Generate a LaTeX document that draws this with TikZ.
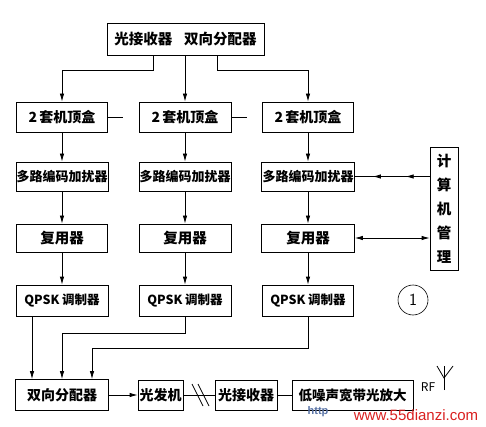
\documentclass[tikz,border=0pt]{standalone}
\usepackage{fontspec}
\setmainfont{Noto Sans CJK SC}
\newfontfamily\wmfont{Liberation Sans}
\usetikzlibrary{arrows.meta,decorations.markings,calc}
\definecolor{wmred}{rgb}{0.85,0.12,0.12}
\definecolor{wmblue}{rgb}{0.35,0.45,0.65}
\newcommand{\fsz}[1]{\fontsize{#1}{#1}\selectfont\bfseries}
\tikzset{mytip/.tip={Latex[length=8pt,width=4.5pt]}}
\begin{document}
\begin{tikzpicture}[x=1pt,y=-1pt,line width=0.8pt,
  blk/.style={draw,rectangle,inner sep=0pt,font=\fsz{14}},
  arr/.style={-mytip}]
\useasboundingbox (0,0) rectangle (486,427);

% top box
\node[blk,minimum width=157,minimum height=32,font=\fsz{14.5}] (top) at (185.5,39) {光接收器\hspace{0.8em}双向分配器};

% row 1
\node[blk,minimum width=91,minimum height=30,font=\fsz{14}] (b11) at (62,117) {2\,套机顶盒};
\node[blk,minimum width=92,minimum height=30,font=\fsz{14}] (b12) at (185,117) {2\,套机顶盒};
\node[blk,minimum width=91,minimum height=30,font=\fsz{14}] (b13) at (308,117) {2\,套机顶盒};
% row 2
\node[blk,minimum width=92,minimum height=29,font=\fsz{13}] (b21) at (62,176.5) {多路编码加扰器};
\node[blk,minimum width=92,minimum height=29,font=\fsz{13}] (b22) at (185,176.5) {多路编码加扰器};
\node[blk,minimum width=93,minimum height=29,font=\fsz{13}] (b23) at (308,176.5) {多路编码加扰器};
% row 3
\node[blk,minimum width=91,minimum height=28,font=\fsz{14.5}] (b31) at (62,238) {复用器};
\node[blk,minimum width=92,minimum height=28,font=\fsz{14.5}] (b32) at (185,238) {复用器};
\node[blk,minimum width=93,minimum height=28,font=\fsz{14.5}] (b33) at (308,238) {复用器};
% row 4
\node[blk,minimum width=92,minimum height=31,font=\fsz{12.5}] (b41) at (62,300.5) {QPSK 调制器};
\node[blk,minimum width=92,minimum height=31,font=\fsz{12.5}] (b42) at (185,300.5) {QPSK 调制器};
\node[blk,minimum width=91,minimum height=31,font=\fsz{12.5}] (b43) at (308,300.5) {QPSK 调制器};

% computer management
\node[blk,minimum width=28,minimum height=123,align=center,font=\fontsize{14.5}{24}\selectfont\bfseries] (comp) at (444,208.5) {计\\算\\机\\管\\理};

% circled number
\node[draw,circle,line width=0.6pt,minimum size=30,inner sep=0pt,font=\sffamily\fontsize{17}{17}\selectfont] (num) at (413,300) {1};

% bottom chain
\node[blk,minimum width=93,minimum height=31] (dist) at (62,395) {双向分配器};
\node[blk,minimum width=45,minimum height=30] (tx) at (160.5,395) {光发机};
\node[blk,minimum width=62,minimum height=30] (rx) at (246,395) {光接收器};
\node[blk,minimum width=121,minimum height=30,font=\fsz{13.5}] (lna) at (352.5,395) {低噪声宽带光放大};
\node[font=\fontsize{12}{12}\selectfont,inner sep=0pt] (rf) at (428,387) {RF};
\coordinate (ant) at (444,390);

% connectors from top box
\coordinate (t1) at ([xshift=-32.5pt]top.south);
\coordinate (t3) at ([xshift=31.5pt]top.south);
\draw[arr] (t1) -- ++(0,15) -| (b11.north);
\draw[arr] (top.south -| b12.north) -- (b12.north);
\draw[arr] (t3) -- ++(0,15) -| (b13.north);

% stubs
\draw (b11.east) -- ++(15,0);
\draw (b12.east) -- ++(16,0);

% vertical flows
\foreach \c in {1,2,3}{
  \draw[arr] (b1\c) -- (b2\c);
  \draw[arr] (b2\c) -- (b3\c);
  \draw[arr] (b3\c) -- (b4\c);
}

% computer links
\draw[postaction={decorate},decoration={markings,
   mark=at position 0.32 with {\arrow{mytip}},
   mark=at position 0.76 with {\arrow{mytip}}}]
   (comp.west |- b23.east) -- (b23.east);
\draw[mytip-mytip] (b33.east) -- (comp.west |- b33.east);

% QPSK to distributor
\draw[arr] ([xshift=-30pt]b41.south) -- ([xshift=-30pt]dist.north);
\draw[arr] (b42.south) -- ++(0,17) -| (dist.north);
\draw[arr] (b43.south) -- ++(0,32) -| ([xshift=30pt]dist.north);

% bottom links
\draw[arr] (dist.east) -- (dist.east -| tx.west);
\draw (tx) -- (rx);
\coordinate (m) at ($(tx.east)!0.5!(rx.west)$);
\draw ($(m)+(-7,-11)$) -- ($(m)+(4,11)$);
\draw ($(m)+(-1,-11)$) -- ($(m)+(10,11)$);
\draw (rx) -- (lna);

% antenna
\draw (ant) -- ++(0,-24);
\draw ($(ant)+(-7,-24)$) -- ($(ant)+(0,-12)$) -- ($(ant)+(9,-24)$);

% watermark
\node[font=\wmfont\bfseries\fontsize{11}{11}\selectfont,text=wmblue,inner sep=0pt] (wm1) at (318,412) {http};
\node[font=\wmfont\fontsize{15}{15}\selectfont,text=wmred,inner sep=0pt] (wm2) at (416,415) {www.55dianzi.com};
\end{tikzpicture}
\end{document}
